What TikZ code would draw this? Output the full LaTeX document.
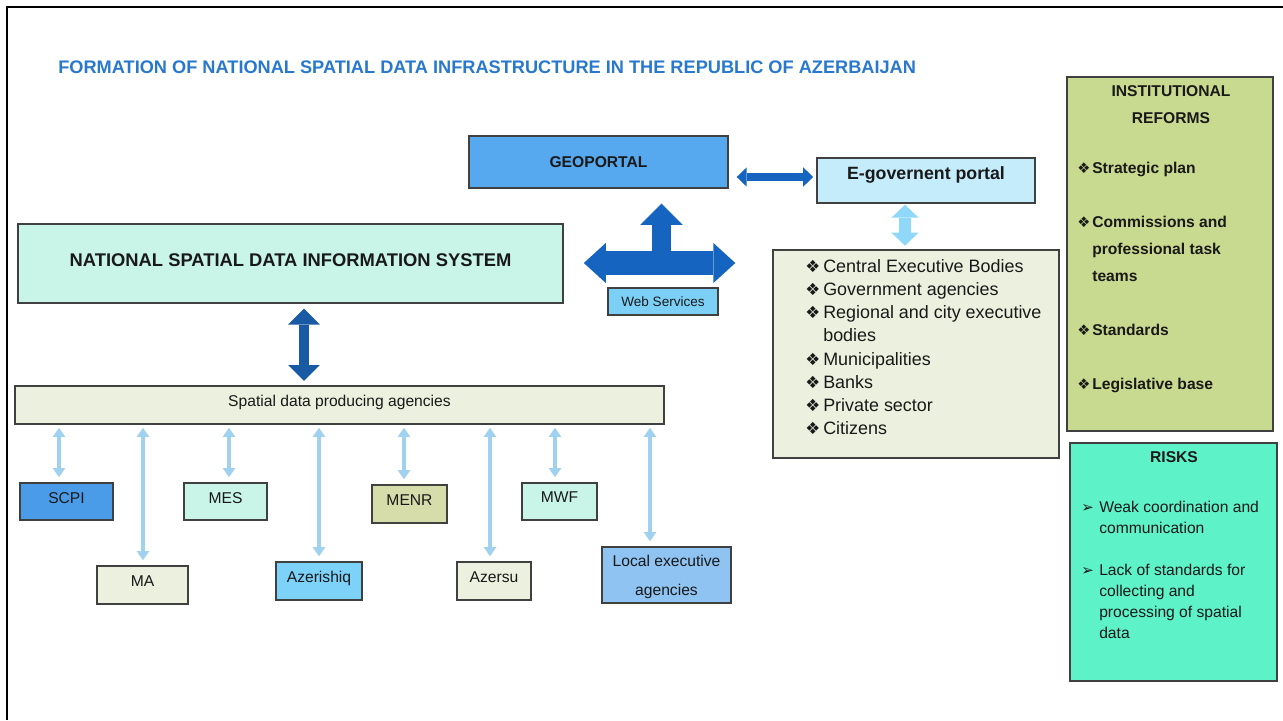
\documentclass[tikz,border=0pt]{standalone}
\usepackage{fontspec}
\setmainfont{Liberation Sans}
\newfontfamily\symfont{DejaVu Sans}
\usetikzlibrary{arrows.meta}

\definecolor{titleblue}{RGB}{40,120,205}
\definecolor{geoblue}{RGB}{87,169,239}
\definecolor{egovblue}{RGB}{197,236,251}
\definecolor{mint}{RGB}{200,245,232}
\definecolor{webblue}{RGB}{125,208,245}
\definecolor{palebeige}{RGB}{235,241,222}
\definecolor{scpiblue}{RGB}{74,155,232}
\definecolor{skyblue}{RGB}{125,210,250}
\definecolor{khaki}{RGB}{214,220,170}
\definecolor{localblue}{RGB}{143,195,242}
\definecolor{olive}{RGB}{200,218,143}
\definecolor{aqua}{RGB}{94,242,200}
\definecolor{crossblue}{RGB}{21,101,192}
\definecolor{navyblue}{RGB}{25,90,165}
\definecolor{lightarr}{RGB}{143,216,250}
\definecolor{thinarr}{RGB}{160,210,240}

\newcommand{\fTitle}{\fontsize{10.35}{12}\selectfont\bfseries}
\newcommand{\fBig}{\fontsize{10.45}{12}\selectfont\bfseries}
\newcommand{\fBold}{\fontsize{8.9}{15.4}\selectfont\bfseries}
\newcommand{\fList}{\fontsize{10.2}{13.15}\selectfont}
\newcommand{\fText}{\fontsize{8.9}{12}\selectfont}
\newcommand{\fAgency}{\fontsize{8.9}{16.5}\selectfont}
\newcommand{\fSmall}{\fontsize{7.7}{9}\selectfont}
\newcommand{\dia}[2]{\makebox[#1][l]{\symfont\fontsize{#2}{#2}\selectfont ❖}}
\newcommand{\tip}{\makebox[10.2pt][l]{\symfont\fontsize{8.5}{8.5}\selectfont ➢}}

\begin{document}
\begin{tikzpicture}[x=0.02cm,y=-0.02cm]
    \tikzstyle{panel}=[rectangle,draw=black!75,line width=0.9pt,inner sep=0pt,text=black!90]
    \tikzstyle{agency}=[panel,align=center,font=\fAgency]
    \tikzstyle{blurb}=[anchor=north west,align=left,inner sep=0pt,text=black!90]
    \tikzstyle{thinlink}=[draw=thinarr,line width=2.8pt,shorten <=1.7pt,shorten >=2.8pt,
        {Triangle[width=7.2pt,length=5.2pt,line width=0pt]}-{Triangle[width=7.2pt,length=5.2pt,line width=0pt]}]
    \tikzstyle{crossarr}=[draw=crossblue,line width=13.7pt]
    \tikzset{sz/.style 2 args={minimum width=#1*0.02cm,minimum height=#2*0.02cm}}

    \useasboundingbox (0,0) rectangle (1283,720);
    \draw[line width=1.7pt] (7,720) -- (7,7) -- (1283,7);

    \node[anchor=west,inner sep=0pt,text=titleblue,font=\fTitle] (title) at (58,67)
        {FORMATION OF NATIONAL SPATIAL DATA INFRASTRUCTURE IN THE REPUBLIC OF AZERBAIJAN};

    \node[panel,sz={259}{52},fill=geoblue,font=\fBold] (geo) at (598.5,162) {GEOPORTAL};
    \node[panel,sz={218}{45},fill=egovblue,font=\fontsize{10.1}{12}\selectfont\bfseries,text depth=8pt] (egov) at (926,180.5) {E-governent portal};
    \node[panel,sz={545}{79},fill=mint,font=\fBig,text depth=3.4pt] (nsdis) at (290.5,263.5) {NATIONAL SPATIAL DATA INFORMATION SYSTEM};
    \node[panel,sz={110}{27},fill=webblue,font=\fSmall] (web) at (663,301.5) {Web Services};
    \node[panel,sz={649}{38},fill=palebeige,font=\fText,text depth=4.5pt] (spd) at (339.5,405) {Spatial data producing agencies};
    \node[panel,sz={286}{208},fill=palebeige] (users) at (916,354) {};
    \node[panel,sz={206}{354},fill=olive] (reforms) at (1170,254) {};
    \node[panel,sz={207}{238},fill=aqua] (risks) at (1173.5,562) {};

    \node[blurb,font=\fList] (userstxt) at (805,259.3)
        {\dia{10.2pt}{9.5}Central Executive Bodies\\
         \dia{10.2pt}{9.5}Government agencies\\
         \dia{10.2pt}{9.5}Regional and city executive\\
         \hspace*{10.2pt}bodies\\
         \dia{10.2pt}{9.5}Municipalities\\
         \dia{10.2pt}{9.5}Banks\\
         \dia{10.2pt}{9.5}Private sector\\
         \dia{10.2pt}{9.5}Citizens};

    \node[align=center,font=\fBold,text=black!90] (reftitle) at (1171,104.5) {INSTITUTIONAL\\REFORMS};
    \node[blurb,font=\fBold] (reftxt) at (1077,161.8)
        {\dia{8.5pt}{8.3}Strategic plan\\[15.4pt]
         \dia{8.5pt}{8.3}Commissions and\\
         \hspace*{8.5pt}professional task\\
         \hspace*{8.5pt}teams\\[15.4pt]
         \dia{8.5pt}{8.3}Standards\\[15.4pt]
         \dia{8.5pt}{8.3}Legislative base};

    \node[font=\fText\bfseries,text=black!90] (risktitle) at (1174,457) {RISKS};
    \node[blurb,font=\fText] (risktxt) at (1081,500.8)
        {\tip Weak coordination and\\
         \hspace*{10.2pt}communication\\[12pt]
         \tip Lack of standards for\\
         \hspace*{10.2pt}collecting and\\
         \hspace*{10.2pt}processing of spatial\\
         \hspace*{10.2pt}data};

    % block arrows round the web services
    \coordinate (hub) at (661.5,263);
    \draw[crossarr,shorten <=11.4pt,shorten >=21pt,
        {Triangle[width=22.8pt,length=12.5pt,line width=0pt]}-{Triangle[width=22.8pt,length=12.5pt,line width=0pt]}]
        (nsdis.east |- hub) -- (users.west |- hub);
    \draw[crossarr,line width=10.8pt,shorten >=8.5pt,-{Triangle[width=24pt,length=12pt,line width=0pt]}]
        (hub) -- (hub |- geo.south);
    \draw[draw=crossblue,line width=4.6pt,shorten <=4.5pt,shorten >=1.7pt,
        {Triangle[width=11pt,length=5.7pt,line width=0pt]}-{Triangle[width=11pt,length=5.7pt,line width=0pt]}]
        (geo.east |- 0,177) -- (egov.west |- 0,177);
    \draw[draw=lightarr,line width=6.8pt,shorten <=0.5pt,shorten >=2pt,
        {Triangle[width=15.4pt,length=7.4pt,line width=0pt]}-{Triangle[width=15.4pt,length=7.4pt,line width=0pt]}]
        (905,0 |- egov.south) -- (905,0 |- users.north);
    \draw[draw=navyblue,line width=5.5pt,shorten <=2.8pt,shorten >=2.5pt,
        {Triangle[width=18pt,length=9pt,line width=0pt]}-{Triangle[width=18pt,length=9pt,line width=0pt]}]
        (304,0 |- nsdis.south) -- (304,0 |- spd.north);

    \foreach \n/\lab/\cx/\cy/\w/\h/\col/\ax/\td in {SCPI/SCPI/66.5/501.5/93/37/scpiblue/59/4.5pt,
            MA/MA/142.5/585/91/38/palebeige/143/4.5pt, MES/MES/225.5/501.5/83/37/mint/229/4.5pt,
            AZE/Azerishiq/319/581/86/38/skyblue/319/4.5pt, MENR/MENR/409.5/504/75/38/khaki/404/4.5pt,
            AZS/Azersu/494/581/74/38/palebeige/490/4.5pt, MWF/MWF/559.5/501.5/75/37/mint/555/4.5pt,
            LOC/Local executive\\agencies/666.5/575/129/56/localblue/650/0pt}
    {
        \node[agency,sz={\w}{\h},fill=\col,text depth=\td] (A-\n) at (\cx,\cy) {\lab};
        \draw[thinlink] (\ax,0 |- spd.south) -- (\ax,0 |- A-\n.north);
    }
\end{tikzpicture}
\end{document}
